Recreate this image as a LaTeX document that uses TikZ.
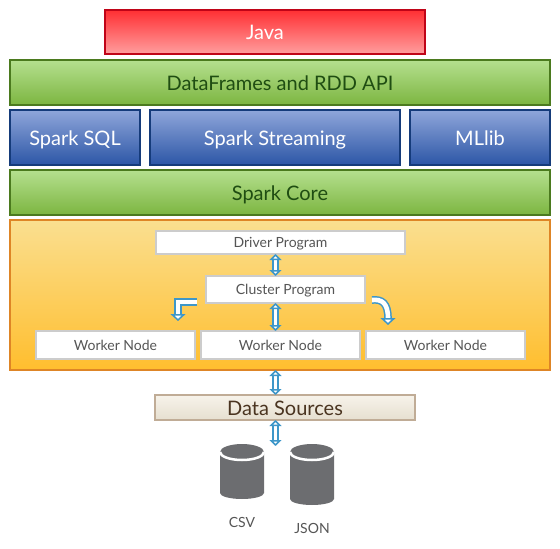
\documentclass[tikz,border=0pt]{standalone}
\usepackage{fontspec}
\setmainfont{Lato}
\usetikzlibrary{arrows.meta}
\definecolor{linkblue}{HTML}{3E97C9}
\definecolor{slabgray}{HTML}{555555}
\definecolor{drumgray}{HTML}{6C6D70}
\definecolor{javaline}{HTML}{C00418}
\definecolor{javatop}{HTML}{FF2F33}
\definecolor{javalow}{HTML}{FF9E9E}
\definecolor{apiline}{HTML}{4B7A1E}
\definecolor{apitop}{HTML}{B5E08F}
\definecolor{apilow}{HTML}{7CB540}
\definecolor{apitext}{HTML}{1F4D12}
\definecolor{engineline}{HTML}{153B7A}
\definecolor{enginetop}{HTML}{8FA6DA}
\definecolor{enginelow}{HTML}{2C56A6}
\definecolor{clusterline}{HTML}{DE8526}
\definecolor{clustertop}{HTML}{FADF90}
\definecolor{clusterlow}{HTML}{FFBE2E}
\definecolor{sourceline}{HTML}{C0AC96}
\definecolor{sourcetop}{HTML}{F7F3EA}
\definecolor{sourcelow}{HTML}{E6DFD0}
\definecolor{sourcetext}{HTML}{4A3420}
\tikzset{
  layerbox/.style = {draw, line width=1.5pt, inner sep=0pt, outer sep=0pt, text height=15pt, text depth=0pt, font=\fontsize{20}{24}\selectfont},
  javabox/.style = {layerbox, draw=javaline, top color=javatop, bottom color=javalow, text=white},
  apibox/.style = {layerbox, draw=apiline, top color=apitop, bottom color=apilow, text=apitext},
  enginebox/.style = {layerbox, draw=engineline, top color=enginetop, bottom color=enginelow, text=white},
  clusterbox/.style = {draw=clusterline, line width=1.5pt, top color=clustertop, bottom color=clusterlow, inner sep=0pt, outer sep=0pt},
  slab/.style = {draw=black!20, fill=white, line width=2pt, text=slabgray, inner sep=0pt, outer sep=0pt, text height=10pt, text depth=0pt, font=\fontsize{14}{17}\selectfont},
  sourcebox/.style = {layerbox, draw=sourceline, top color=sourcetop, bottom color=sourcelow, text=sourcetext},
  filetag/.style = {text=slabgray, font=\fontsize{14}{17}\selectfont},
  link/.style = {draw=linkblue, line width=1.5pt, double=white, double distance=3.6pt, {Triangle[open, fill=white, line width=1.5pt, length=6pt, width=12pt]}-{Triangle[open, fill=white, line width=1.5pt, length=6pt, width=12pt]}},
  bentlink/.style = {draw=linkblue, line width=1.5pt, double=white, double distance=4.6pt, -{Triangle[open, fill=white, line width=1.5pt, length=7pt, width=15pt]}},
}
\begin{document}
\begin{tikzpicture}[x=1pt, y=-1pt]
  \useasboundingbox (0,0) rectangle (560,549);
  \node[javabox, minimum width=320pt, minimum height=44pt] (java) at (265,32) {Java};
  \node[apibox, minimum width=540pt, minimum height=45pt] (api) at (280,82.5) {DataFrames and RDD API};
  \node[enginebox, minimum width=130pt, minimum height=55pt] (sql) at (75,137.5) {Spark SQL};
  \node[enginebox, minimum width=250pt, minimum height=55pt] (streaming) at (275,137.5) {Spark Streaming};
  \node[enginebox, minimum width=140pt, minimum height=55pt] (mllib) at (480,137.5) {MLlib};
  \node[apibox, minimum width=540pt, minimum height=45pt] (core) at (280,192.5) {Spark Core};
  \node[clusterbox, minimum width=540pt, minimum height=150pt] (cluster) at (280,295) {};
  % inside the cluster
  \node[slab, minimum width=249pt, minimum height=23pt] (driver) at (280.5,242.5) {Driver Program};
  \node[slab, minimum width=159pt, minimum height=27pt] (manager) at (285.5,289.5) {Cluster Program};
  \node[slab, minimum width=159pt, minimum height=28pt] (workerA) at (115.5,345) {Worker Node};
  \begin{scope}[node distance=165pt]
    \foreach \i\j in {workerA/workerB, workerB/workerC} {
      \node[slab, minimum width=159pt, minimum height=28pt, right of = \i] (\j) {Worker Node};
    }
  \end{scope}
  \node[sourcebox, minimum width=260pt, minimum height=25pt] (sources) at (285,407.5) {Data Sources};
  % drums
  \coordinate (csv) at (242,452);
  \coordinate (json) at (312,452);
  \foreach \i\j in {csv/41, json/47} {
    \fill[drumgray] ([xshift=-22pt]\i) arc[start angle=180, end angle=0, x radius=22pt, y radius=8pt]
      -- ++(0,\j) arc[start angle=0, end angle=-180, x radius=22pt, y radius=6pt] -- cycle;
    \draw[white, line width=2.5pt] ([xshift=-22pt]\i) arc[start angle=180, end angle=360, x radius=22pt, y radius=8pt];
  }
  \node[filetag] (csvlabel) at (242,522) {CSV};
  \node[filetag] (jsonlabel) at (312,528) {JSON};
  % links
  \coordinate (axis) at (275.5,0);
  \coordinate (sourcelink) at (275.5,446);
  \coordinate (leftstart) at (197,302);
  \coordinate (lefttip) at (178,321);
  \coordinate (rightstart) at (372,300);
  \coordinate (righttip) at (388,325);
  \draw[link] (driver.south -| axis) -- (manager.north -| axis);
  \draw[link] (manager.south -| axis) -- (workerB.north -| axis);
  \draw[link] (cluster.south -| axis) -- (sources.north -| axis);
  \draw[link] (sources.south -| axis) -- (sourcelink);
  \draw[bentlink] (leftstart) -| (lefttip);
  \draw[bentlink] (rightstart) .. controls (382,299) and (388,303) .. (righttip);
\end{tikzpicture}
\end{document}
